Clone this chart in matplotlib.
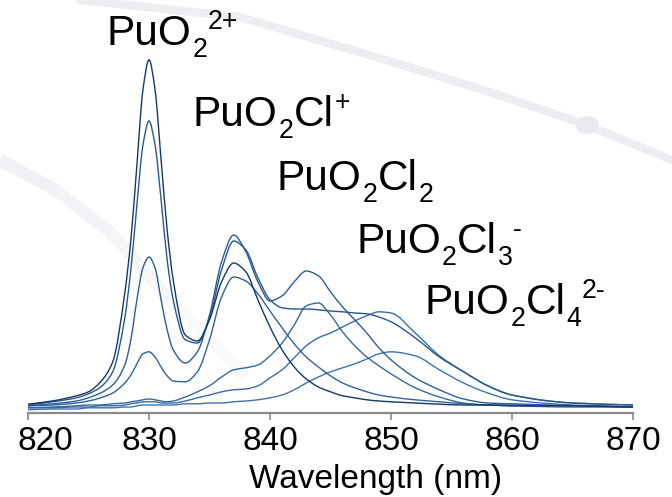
import matplotlib
matplotlib.use("Agg")
import matplotlib.pyplot as plt
from matplotlib import font_manager
from matplotlib.lines import Line2D
from matplotlib.patches import Circle, PathPatch
from matplotlib.path import Path
from matplotlib.transforms import ScaledTranslation

plt.rcParams["font.family"] = ["Liberation Sans", "DejaVu Sans"]
installed = {f.name for f in font_manager.fontManager.ttflist}
NARROW = "Liberation Sans Narrow" if "Liberation Sans Narrow" in installed else "Liberation Sans"
AXIS_FS = 26 if NARROW == "Liberation Sans Narrow" else 24

# wavelength grid (nm), denser around the narrow 830 nm band
wavelength = [820, 822, 824, 825, 826, 827, 828, 828.5, 829, 829.5, 830, 830.5,
              831, 831.5, 832, 833, 834, 835, 836, 837, 838, 839, 840, 841, 842,
              843, 844, 845, 846, 847, 848, 849, 850, 852, 854, 856, 858, 860,
              865, 870]

# absorbance (arb. units), one list per spectrum
spec1 = [.022, .030, .043, .053, .078, .128, .300, .433, .620, .808, .883, .808,
         .633, .458, .333, .195, .180, .233, .328, .375, .353, .283, .215, .158,
         .115, .085, .065, .053, .043, .038, .033, .030, .028, .025, .022, .020,
         .020, .018, .018, .015]
spec2 = [.020, .028, .038, .048, .065, .103, .238, .358, .520, .670, .730, .670,
         .533, .383, .283, .183, .175, .238, .358, .430, .408, .338, .283, .263,
         .260, .260, .258, .255, .253, .250, .248, .240, .228, .188, .140, .103,
         .068, .045, .025, .020]
spec3 = [.018, .023, .030, .038, .050, .070, .120, .183, .283, .363, .390, .363,
         .283, .208, .158, .125, .153, .245, .378, .445, .403, .328, .280, .293,
         .328, .355, .343, .303, .265, .233, .200, .163, .133, .088, .058, .035,
         .025, .023, .018, .015]
spec4 = [.018, .020, .025, .030, .038, .050, .075, .095, .123, .148, .153, .140,
         .115, .093, .080, .078, .103, .183, .290, .340, .330, .298, .255, .213,
         .173, .140, .115, .093, .075, .063, .053, .045, .040, .033, .028, .023,
         .020, .020, .018, .015]
spec5 = [.013, .015, .018, .020, .020, .023, .025, .028, .030, .033, .035, .033,
         .030, .028, .030, .040, .053, .068, .090, .108, .113, .120, .143, .175,
         .220, .268, .275, .245, .203, .168, .140, .118, .098, .063, .040, .025,
         .020, .018, .015, .015]
spec6 = [.013, .013, .015, .015, .018, .018, .020, .023, .025, .028, .028, .028,
         .025, .025, .025, .030, .038, .045, .053, .058, .060, .068, .088, .108,
         .138, .168, .188, .200, .215, .230, .243, .253, .250, .200, .143, .103,
         .068, .045, .025, .020]
spec7 = [.008, .010, .010, .013, .013, .013, .015, .015, .018, .020, .020, .020,
         .020, .020, .020, .023, .023, .025, .025, .028, .030, .033, .038, .045,
         .058, .075, .090, .103, .113, .123, .135, .148, .153, .143, .108, .075,
         .050, .033, .020, .015]

spectra = [spec7, spec6, spec5, spec4, spec3, spec2, spec1]
colors = ["#3f73ab", "#3a6da5", "#3568a0", "#30629a", "#2d5d95", "#29578e", "#153866"]

xticks = [820, 830, 840, 850, 860, 870]

# species labels: (text, kind) pieces, kind n = normal, b = subscript, p = superscript
species = [
    [("PuO", "n"), ("2", "b"), ("2+", "p")],
    [("PuO", "n"), ("2", "b"), ("Cl", "n"), ("+", "p")],
    [("PuO", "n"), ("2", "b"), ("Cl", "n"), ("2", "b")],
    [("PuO", "n"), ("2", "b"), ("Cl", "n"), ("3", "b"), ("-", "p")],
    [("PuO", "n"), ("2", "b"), ("Cl", "n"), ("4", "b"), ("2-", "p")],
]
label_pos = [(107, 45), (193, 126), (277, 190), (356, 253), (425, 314)]


def smooth_path(x, y):
    # cubic Hermite (monotone tangents) through the read points, as Bezier segments
    n = len(x)
    h = [x[i + 1] - x[i] for i in range(n - 1)]
    d = [(y[i + 1] - y[i]) / h[i] for i in range(n - 1)]
    m = [0.0] * n
    m[0], m[-1] = d[0], d[-1]
    for k in range(1, n - 1):
        if d[k - 1] * d[k] <= 0:
            m[k] = 0.0
        else:
            w1 = 2 * h[k] + h[k - 1]
            w2 = h[k] + 2 * h[k - 1]
            m[k] = (w1 + w2) / (w1 / d[k - 1] + w2 / d[k])
    verts = [(x[0], y[0])]
    codes = [Path.MOVETO]
    for i in range(n - 1):
        verts += [(x[i] + h[i] / 3, y[i] + m[i] * h[i] / 3),
                  (x[i + 1] - h[i] / 3, y[i + 1] - m[i + 1] * h[i] / 3),
                  (x[i + 1], y[i + 1])]
        codes += [Path.CURVE4] * 3
    return Path(verts, codes)


W, H = 672, 497
fig = plt.figure(figsize=(W / 100, H / 100), dpi=100)

# faint decorative arcs in the background
arc1 = [(80, 0), (240, 17), (386, 60), (493, 93), (587, 125), (672, 160)]
fig.add_artist(Line2D([p[0] / W for p in arc1], [1 - p[1] / H for p in arc1],
                      transform=fig.transFigure, color="#eceef2", lw=6,
                      solid_capstyle="round", zorder=0))
fig.add_artist(Circle((587 / W, 1 - 125 / H), 11 / W, transform=fig.transFigure,
                      color="#e9eaef", zorder=0))
arc2 = [(0, 160), (56, 190), (111, 233), (170, 300), (245, 375)]
for i in range(len(arc2) - 1):
    a, b = arc2[i], arc2[i + 1]
    fig.add_artist(Line2D([a[0] / W, b[0] / W], [1 - a[1] / H, 1 - b[1] / H],
                          transform=fig.transFigure, color="#eff1f4",
                          lw=9, alpha=1 - 0.2 * i, solid_capstyle="butt", zorder=0))

ax = fig.add_axes([28 / W, 1 - 413 / H, 605 / W, 400 / H])
ax.set_facecolor("none")

for s, c in zip(spectra, colors):
    ax.add_patch(PathPatch(smooth_path(wavelength, s), fill=False, edgecolor=c,
                           lw=1.0, transform=ax.transData))

ax.set_xlim(820, 870)
ax.set_ylim(0, 1.0)
ax.set_xticks(xticks)
ax.set_yticks([])
for side in ["top", "right", "left"]:
    ax.spines[side].set_visible(False)
ax.spines["bottom"].set_color("#8a8a8a")
ax.spines["bottom"].set_linewidth(1.6)
ax.tick_params(axis="x", direction="out", length=5, width=1.2, color="#8a8a8a",
               labelsize=AXIS_FS, pad=4)
for lab in ax.get_xticklabels():
    lab.set_family([NARROW, "DejaVu Sans"])
first = ax.get_xticklabels()[0]
first.set_transform(first.get_transform() + ScaledTranslation(17 / 100, 0, fig.dpi_scale_trans))

ax.set_xlabel("Wavelength (nm)", fontsize=AXIS_FS, family=[NARROW, "DejaVu Sans"])
ax.xaxis.label.set_verticalalignment("baseline")
ax.xaxis.set_label_coords((376 - 28) / 605, -(488 - 413) / 400)

renderer = fig.canvas.get_renderer()
size = 30.5
for parts, (px, py) in zip(species, label_pos):
    x = px
    for s, kind in parts:
        if kind == "n":
            fs, dy = size, 0
        elif kind == "b":
            fs, dy = size * 0.63, -12
        else:
            fs, dy = size * 0.63, 16
        t = fig.text(x / W, 1 - (py - dy) / H, s, fontsize=fs, ha="left", va="baseline")
        x = t.get_window_extent(renderer).x1 + (1 if kind == "n" else 0)

fig.savefig("out.png", dpi=100)
